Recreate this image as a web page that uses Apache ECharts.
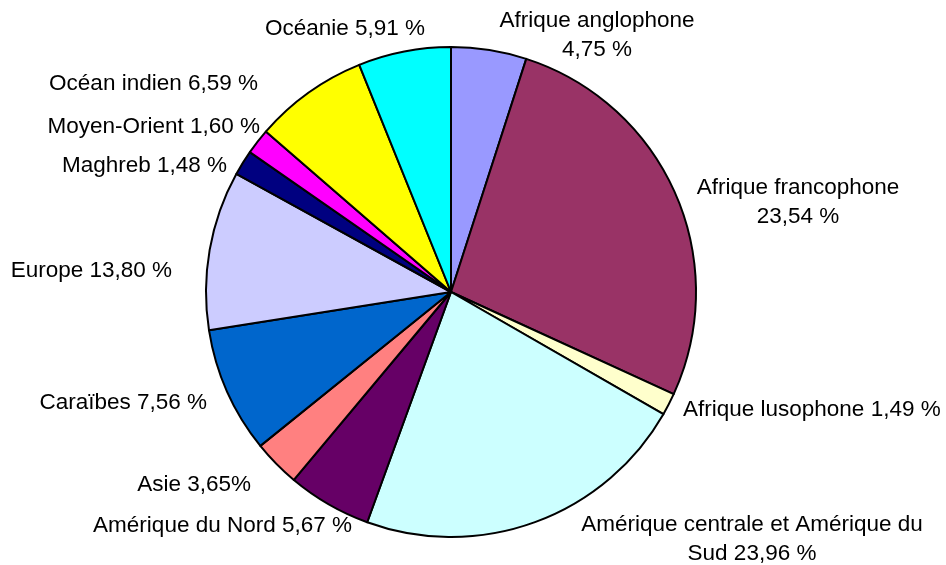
<!DOCTYPE html>
<html><head><meta charset="utf-8">
<script src="https://cdn.jsdelivr.net/npm/echarts@6/dist/echarts.min.js"></script>
<style>html,body{margin:0;padding:0;background:#fff}#c{width:946px;height:565px}</style>
</head><body><div id="c"></div>
<script>
// Category names
const categories = ["Afrique anglophone","Afrique francophone","Afrique lusophone","Amérique centrale et Amérique du Sud","Amérique du Nord","Asie","Caraïbes","Europe","Maghreb","Moyen-Orient","Océan indien","Océanie"];
// Slice shares as drawn in the picture (angles)
const values = [4.97,26.88,1.46,22.25,5.53,3.11,8.31,10.50,1.67,1.69,7.53,6.11];
// Label texts as printed on the picture
const labels = ["Afrique anglophone\n4,75 %","Afrique francophone\n23,54 %","Afrique lusophone 1,49 %","Amérique centrale et Amérique du\nSud 23,96 %","Amérique du Nord 5,67 %","Asie 3,65%","Caraïbes 7,56 %","Europe 13,80 %","Maghreb 1,48 %","Moyen-Orient 1,60 %","Océan indien 6,59 %","Océanie 5,91 %"];
const colors = ["#9999FF","#993366","#FFFFCC","#CCFFFF","#660066","#FF8080","#0066CC","#CCCCFF","#000080","#FF00FF","#FFFF00","#00FFFF"];
// label placement (text anchor x, y, alignment)
const labelPos = [
  [597,35,'center'],[798,202,'center'],[683,410,'left'],[752,539,'center'],
  [352,526,'right'],[251,485,'right'],[207,403,'right'],[172,271,'right'],
  [227,166,'right'],[260,127,'right'],[258,84,'right'],[425,29,'right']
];
const chart = echarts.init(document.getElementById('c'));
chart.setOption({
  animation:false,
  series:[{
    type:'pie',
    center:[451,292],
    radius:245,
    startAngle:90,
    clockwise:true,
    avoidLabelOverlap:false,
    itemStyle:{borderColor:'#000',borderWidth:2},
    label:{show:true,position:'outside',color:'#000',fontSize:22.5,fontFamily:'Liberation Sans',lineHeight:29,align:'center',
      formatter:p=>labels[p.dataIndex]},
    labelLine:{show:false,length:10,length2:0},
    labelLayout:function(p){
      const lp = labelPos[p.dataIndex];
      return {x:lp[0],y:lp[1],align:lp[2],verticalAlign:'middle'};
    },
    emphasis:{disabled:true},
    data:categories.map((n,i)=>({name:n,value:values[i],itemStyle:{color:colors[i]}}))
  }]
});
</script></body></html>
